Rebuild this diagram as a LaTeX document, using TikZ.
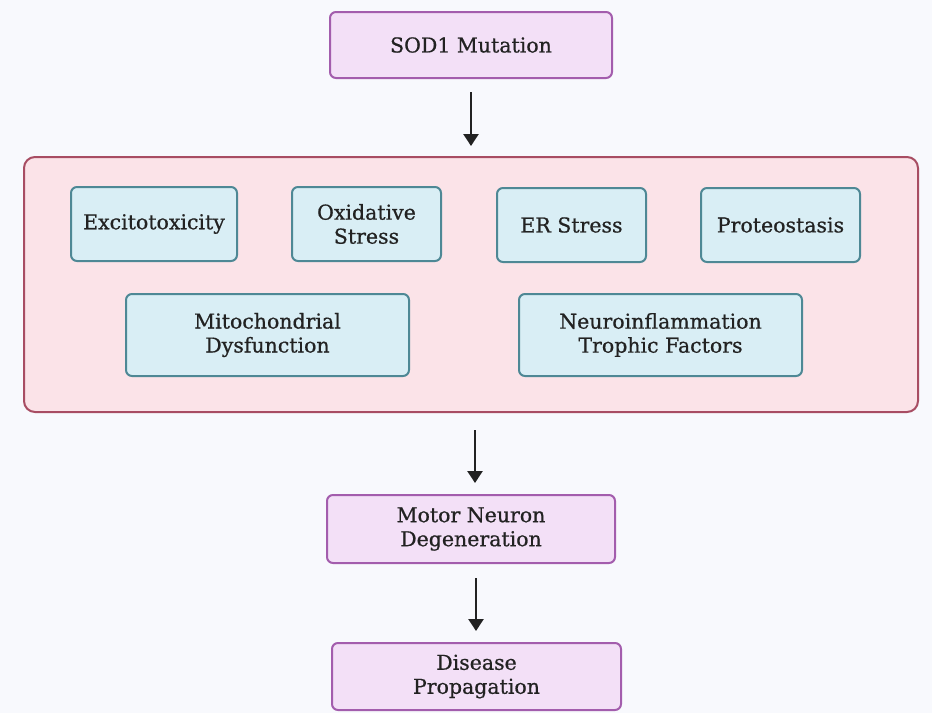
\documentclass[tikz,border=0pt]{standalone}
\usepackage{fontspec}
\setmainfont{DejaVu Serif}[FakeBold=0.7]
\usetikzlibrary{arrows.meta}
\definecolor{bg}{HTML}{F8F9FD}
\definecolor{pfill}{HTML}{F3E0F7}
\definecolor{pdraw}{HTML}{A35DAD}
\definecolor{rfill}{HTML}{FBE3E8}
\definecolor{rdraw}{HTML}{A84D63}
\definecolor{bfill}{HTML}{D9EEF5}
\definecolor{bdraw}{HTML}{4E8895}
\definecolor{txt}{HTML}{222222}
\tikzset{
  x=1pt, y=-1pt,
  base/.style={rounded corners=6pt, line width=2pt, font=\fontsize{20.5}{24}\selectfont, text=txt, align=center, inner sep=0pt},
  purplebox/.style={base, fill=pfill, draw=pdraw},
  bluebox/.style={base, fill=bfill, draw=bdraw},
  outerbox/.style={rounded corners=11pt, line width=2pt, fill=rfill, draw=rdraw},
  arr/.style={line width=2.4pt, draw=txt, -{Triangle[length=12pt,width=15pt]}}
}
\newcommand{\boxat}[6]{\node[#1, minimum width=#4-#3, minimum height=#6-#5] (#2) at ({(#3+#4)/2},{(#5+#6)/2})}
\begin{document}
\begin{tikzpicture}
\fill[bg] (0,0) rectangle (932,713);
\useasboundingbox (0,0) rectangle (932,713);
\node[outerbox, inner sep=0pt, minimum width=894pt, minimum height=255pt] (mid) at (471,284.5) {};
\boxat{purplebox}{sod}{330}{612}{12}{78} {SOD1 Mutation};
\boxat{bluebox}{exc}{71}{237}{187}{261} {Excitotoxicity};
\boxat{bluebox}{oxi}{292}{441}{187}{261} {Oxidative\\Stress};
\boxat{bluebox}{er}{497}{646}{188}{262} {ER Stress};
\boxat{bluebox}{pro}{701}{860}{188}{262} {Proteostasis};
\boxat{bluebox}{mito}{126}{409}{294}{376} {Mitochondrial\\Dysfunction};
\boxat{bluebox}{neuro}{519}{802}{294}{376} {Neuroinflammation\\Trophic Factors};
\boxat{purplebox}{mnd}{327}{615}{495}{563} {Motor Neuron\\Degeneration};
\boxat{purplebox}{dis}{332}{621}{643}{710} {Disease\\Propagation};
\coordinate (a1s) at (471,92); \coordinate (a1e) at (471,146);
\coordinate (a2s) at (475,430); \coordinate (a2e) at (475,483);
\coordinate (a3s) at (476,578); \coordinate (a3e) at (476,631);
\draw[arr] (a1s) -- (a1e);
\draw[arr] (a2s) -- (a2e);
\draw[arr] (a3s) -- (a3e);
\end{tikzpicture}
\end{document}
